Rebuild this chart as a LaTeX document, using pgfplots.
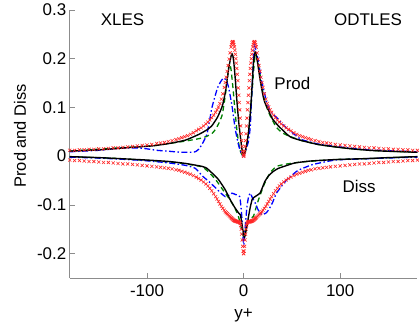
\documentclass[border=0pt]{standalone}
\usepackage{pgfplots}
\pgfplotsset{compat=1.18}
\usepackage{pgfplotstable}
\usepackage{fontspec}
\setmainfont{Liberation Sans}

\pgfplotstableread{
y prod diss
0 0.000 -0.200
0.5 0.003 -0.195
1 0.010 -0.185
1.5 0.020 -0.172
2 0.032 -0.160
2.5 0.046 -0.150
3 0.062 -0.142
3.5 0.078 -0.138
4 0.095 -0.136
4.5 0.110 -0.135
5 0.125 -0.135
5.5 0.140 -0.135
6 0.155 -0.135
6.5 0.168 -0.135
7 0.180 -0.134
7.5 0.191 -0.134
8 0.200 -0.134
8.5 0.209 -0.133
9 0.217 -0.133
9.5 0.224 -0.132
10 0.229 -0.132
10.5 0.233 -0.131
11 0.235 -0.130
11.5 0.235 -0.129
12 0.233 -0.128
12.5 0.229 -0.127
13 0.224 -0.126
14 0.212 -0.124
15 0.199 -0.122
16 0.186 -0.120
17 0.174 -0.118
18 0.162 -0.116
19 0.151 -0.114
20 0.141 -0.111
21.5 0.128 -0.107
23 0.117 -0.103
24.5 0.108 -0.098
26 0.101 -0.093
27.5 0.095 -0.088
29 0.090 -0.083
31 0.084 -0.077
33 0.079 -0.071
35 0.074 -0.066
37 0.070 -0.061
39 0.066 -0.057
41.5 0.062 -0.053
44 0.058 -0.049
46.5 0.055 -0.046
49 0.052 -0.043
52 0.048 -0.040
55 0.045 -0.037
58 0.042 -0.035
61 0.040 -0.033
64 0.038 -0.031
67 0.036 -0.029
70 0.034 -0.028
74 0.032 -0.026
78 0.030 -0.025
82 0.028 -0.024
86 0.027 -0.023
90 0.026 -0.022
95 0.024 -0.021
100 0.023 -0.020
105 0.022 -0.019
110 0.021 -0.018
115 0.020 -0.017
120 0.019 -0.016
125 0.018 -0.016
130 0.017 -0.015
135 0.017 -0.014
140 0.016 -0.013
145 0.015 -0.013
150 0.015 -0.012
155 0.014 -0.011
160 0.014 -0.011
165 0.013 -0.010
170 0.013 -0.009
175 0.012 -0.009
180 0.012 -0.008
}\dns

\definecolor{mgreen}{rgb}{0,0.5,0}
\definecolor{axgray}{gray}{0.55}

\begin{document}
\begin{tikzpicture}
\begin{axis}[
  width=349pt, height=269pt, scale only axis,
  xmin=-180, xmax=180, ymin=-0.25, ymax=0.3,
  axis x line*=bottom, axis y line*=left,
  axis line style={axgray, line width=0.6pt},
  tick style={axgray, line width=0.6pt},
  tick align=inside, major tick length=5pt,
  xtick={-100,0,100}, xticklabels={-100,0,100},
  ytick={-0.2,-0.1,0,0.1,0.2,0.3},
  yticklabels={-0.2,-0.1,0,0.1,0.2,0.3},
  font=\fontsize{17}{20}\selectfont,
  ticklabel style={font=\fontsize{17}{20}\selectfont},
  xticklabel style={yshift=-3pt},
  xlabel={y+}, ylabel={Prod and Diss},
  xlabel style={at={(axis description cs:0.5,-0.1524)}, anchor=base},
  ylabel style={at={(axis description cs:-0.143,0.53)}, anchor=center, font=\fontsize{16.5}{19}\selectfont},
  clip=false,
  dsh/.style={dash pattern=on 5pt off 3.5pt},
  dshdot/.style={dash pattern=on 6pt off 2.5pt on 1.5pt off 2.5pt},
]
% DNS (red markers), symmetric
\addplot[only marks, mark=x, mark size=2.2pt, red!85, mark options={line width=0.6pt}] table[x=y, y=prod] {\dns};
\addplot[only marks, mark=x, mark size=2.2pt, red!85, mark options={line width=0.6pt}] table[x expr=-\thisrow{y}, y=prod] {\dns};
\addplot[only marks, mark=x, mark size=2.2pt, red!85, mark options={line width=0.6pt}] table[x=y, y=diss] {\dns};
\addplot[only marks, mark=x, mark size=2.2pt, red!85, mark options={line width=0.6pt}] table[x expr=-\thisrow{y}, y=diss] {\dns};

% green dashed prod
\addplot[mgreen, dsh, line width=1.3pt, smooth, tension=0.3] coordinates {
(-180,0.0103) (-129,0.017) (-95,0.021) (-77,0.026) (-60,0.031) (-46,0.036) (-39,0.040) (-33,0.046) (-29,0.055) (-25,0.070) (-22,0.086) (-19,0.124) (-17,0.155) (-15.5,0.182) (-14.5,0.190) (-13,0.178) (-11,0.140) (-9,0.095) (-7,0.055) (-5,0.025) (-3,0.008) (-1,0.001) (0,0.0)
(2,0.010) (4,0.030) (6,0.065) (8,0.110) (10,0.165) (11,0.190) (12,0.208) (13,0.205) (15.5,0.186) (18,0.155) (20.6,0.124) (24,0.100) (27.5,0.083) (33,0.062) (36,0.055) (40,0.048) (46,0.042) (60,0.032) (77,0.024) (95,0.019) (130,0.012) (180,0.008)};
% green dashed diss
\addplot[mgreen, dsh, line width=1.3pt, smooth, tension=0.3] coordinates {
(-180,-0.001) (-129,-0.005) (-77,-0.012) (-60,-0.016) (-43,-0.022) (-36,-0.033) (-29,-0.048) (-24,-0.062) (-19,-0.076) (-14,-0.090) (-10,-0.103) (-6,-0.120) (-3.4,-0.138) (-1,-0.160) (0,-0.165)
(2,-0.150) (5,-0.131) (10,-0.124) (13,-0.105) (15.5,-0.089) (19,-0.070) (22,-0.055) (27.5,-0.034) (34,-0.021) (45,-0.016) (60,-0.012) (95,-0.007) (130,-0.005) (180,-0.001)};

% blue dash-dot prod
\addplot[blue, dshdot, line width=1.3pt, smooth, tension=0.3] coordinates {
(-180,0.009) (-150,0.012) (-129,0.016) (-110,0.017) (-100,0.015) (-90,0.012) (-77,0.010) (-65,0.008) (-55,0.008) (-50,0.009) (-46,0.015) (-42,0.028) (-38,0.045) (-35,0.075) (-33,0.098) (-30,0.120) (-27,0.140) (-24,0.152) (-21,0.160) (-18,0.156) (-15.5,0.141) (-12,0.103) (-8.6,0.055) (-5,0.021) (-2,0.004) (0,0.0)
(2,0.010) (5,0.030) (6.9,0.060) (8,0.110) (9.3,0.158) (10.5,0.210) (11.3,0.227) (12.5,0.220) (15.5,0.193) (18,0.160) (20.6,0.138) (24,0.110) (27.5,0.093) (32,0.083) (36,0.076) (40,0.066) (46,0.055) (53,0.044) (60,0.034) (77,0.025) (95,0.020) (130,0.013) (180,0.009)};
% blue dash-dot diss
\addplot[blue, dshdot, line width=1.3pt, smooth, tension=0.3] coordinates {
(-180,-0.002) (-150,-0.004) (-129,-0.006) (-103,-0.009) (-77,-0.014) (-60,-0.019) (-50,-0.025) (-43,-0.040) (-36,-0.052) (-29,-0.065) (-24,-0.075) (-19,-0.083) (-15,-0.080) (-12,-0.076) (-8,-0.079) (-4,-0.083) (-2,-0.120) (-0.5,-0.170) (0.3,-0.182)
(1.5,-0.150) (3.4,-0.105) (5,-0.085) (6.9,-0.076) (9,-0.085) (12,-0.096) (15,-0.110) (19,-0.120) (23,-0.117) (26,-0.110) (30,-0.095) (34,-0.076) (40,-0.060) (45,-0.048) (55,-0.031) (60,-0.026) (72,-0.017) (95,-0.008) (130,-0.005) (180,-0.002)};

% black solid prod
\addplot[black, line width=1.4pt, smooth, tension=0.3] coordinates {
(-180,0.0103) (-150,0.013) (-129,0.016) (-110,0.019) (-95,0.021) (-77,0.026) (-60,0.033) (-46,0.045) (-38,0.054) (-33,0.062) (-27,0.080) (-22,0.103) (-19,0.130) (-17,0.158) (-15,0.185) (-13,0.205) (-12,0.210) (-11,0.205) (-10,0.190) (-8.6,0.158) (-7,0.115) (-5,0.069) (-3,0.035) (-1.7,0.014) (0,0.001)
(1,0.006) (3,0.022) (5,0.048) (7,0.090) (8.6,0.138) (10,0.185) (11,0.205) (12,0.214) (13,0.210) (15,0.185) (17,0.158) (20,0.125) (22,0.110) (26,0.093) (30,0.076) (33,0.069) (36,0.062) (46,0.043) (50,0.038) (60,0.032) (77,0.024) (95,0.019) (112,0.015) (130,0.012) (146,0.0103) (180,0.008)};
% black solid diss
\addplot[black, line width=1.4pt, smooth, tension=0.3] coordinates {
(-180,-0.001) (-150,-0.003) (-129,-0.005) (-100,-0.008) (-77,-0.011) (-60,-0.015) (-43,-0.021) (-38,-0.025) (-33,-0.034) (-26,-0.048) (-19,-0.069) (-15,-0.085) (-12,-0.096) (-8.6,-0.107) (-5,-0.117) (-3.4,-0.120) (-2,-0.135) (-1,-0.150) (0,-0.158) (1,-0.166)
(3.4,-0.145) (5,-0.125) (6.9,-0.105) (9,-0.088) (12,-0.083) (15,-0.079) (17,-0.076) (20,-0.062) (22,-0.052) (26,-0.040) (31,-0.031) (36,-0.025) (45,-0.019) (53,-0.014) (69,-0.010) (95,-0.007) (127,-0.005) (150,-0.003) (180,-0.001)};

\node[font=\fontsize{17}{20}\selectfont] at (axis cs:-125.3,0.281) {XLES};
\node[font=\fontsize{17}{20}\selectfont] at (axis cs:128.9,0.281) {ODTLES};
\node[font=\fontsize{17}{20}\selectfont] at (axis cs:50.5,0.150) {Prod};
\node[font=\fontsize{17}{20}\selectfont] at (axis cs:119.6,-0.0626) {Diss};

\path (rel axis cs:0,0) ++(-70pt,-51pt) coordinate (bl);
\path (rel axis cs:1,1) ++(0pt,10pt) coordinate (tr);
\useasboundingbox (bl) rectangle (tr);
\end{axis}
\end{tikzpicture}
\end{document}
